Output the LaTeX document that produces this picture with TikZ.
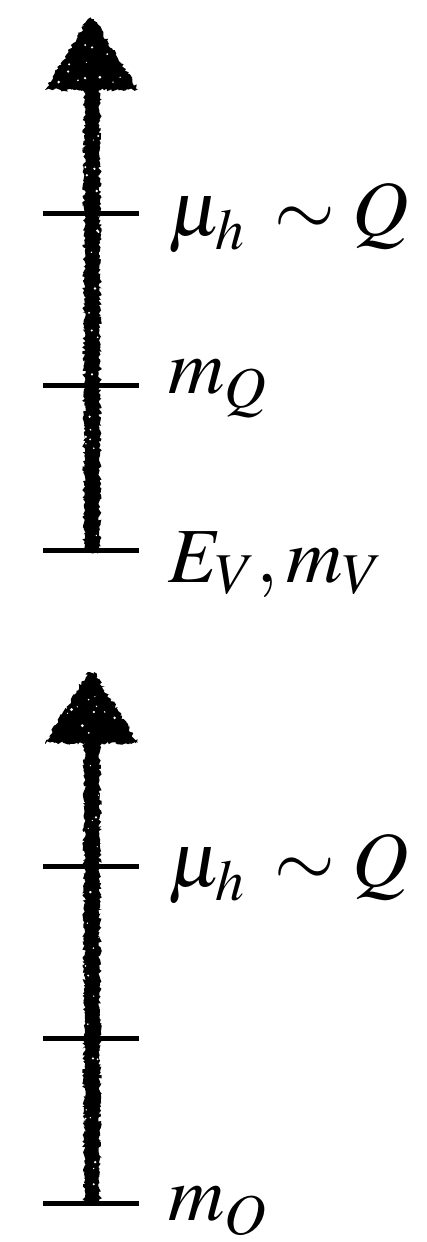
\documentclass[tikz,border=0pt]{standalone}
\usepackage{mathptmx}
\usetikzlibrary{decorations.pathmorphing}
\begin{document}
\pgfmathsetseed{7}
\begin{tikzpicture}[x=1pt,y=-1pt,
  rough/.style={fill=black, decorate, decoration={random steps, segment length=1.8pt, amplitude=1.8pt}},
  speck/.style={fill=white},
  scaletick/.style={line width=5pt},
  lbl/.style={anchor=base west, inner sep=0pt, font=\fontsize{78}{88}\selectfont}]
\useasboundingbox (0,0) rectangle (427,1242);
% ---- upper scale ----
\coordinate (a1apex) at (88,19);
\path[rough] (84,86) -- (84,552) -- (100,552) -- (100,86) -- cycle;
\path[rough] (a1apex) -- (45,90) -- (138,90) -- (94,19) -- cycle;
\foreach \i in {1,...,22}{
  \pgfmathsetmacro{\yy}{100+rnd*440}
  \pgfmathsetmacro{\xx}{85+rnd*14}
  \fill[speck] (\xx,\yy) circle (0.6+rnd*0.8);
}
\foreach \i in {1,...,12}{
  \pgfmathsetmacro{\yy}{40+rnd*46}
  \pgfmathsetmacro{\xx}{91+(rnd-0.5)*(\yy-17)*1.1}
  \fill[speck] (\xx,\yy) circle (0.6+rnd*1.0);
}
\coordinate (t1) at (43,213);
\coordinate (t2) at (43,385);
\coordinate (t3) at (43,550);
\draw[scaletick] (t1) -- ++(96,0);
\draw[scaletick] (t2) -- ++(96,0);
\draw[scaletick] (t3) -- ++(96,0);
\node[lbl] (l1) at (168,235) {$\mu_{\raisebox{-3pt}{$\scriptstyle h$}}\mkern3mu\sim Q$};
\node[lbl] (l2) at (168,393) {$m_{\raisebox{-3pt}{$\scriptstyle Q$}}$};
\node[lbl] (l3) at (168,582) {$E_V, m_V$};
% ---- lower scale ----
\coordinate (a2apex) at (88,672);
\path[rough] (84,739) -- (84,1205) -- (100,1205) -- (100,739) -- cycle;
\path[rough] (a2apex) -- (45,743) -- (138,743) -- (94,672) -- cycle;
\foreach \i in {1,...,22}{
  \pgfmathsetmacro{\yy}{755+rnd*440}
  \pgfmathsetmacro{\xx}{85+rnd*14}
  \fill[speck] (\xx,\yy) circle (0.6+rnd*0.8);
}
\foreach \i in {1,...,12}{
  \pgfmathsetmacro{\yy}{693+rnd*46}
  \pgfmathsetmacro{\xx}{91+(rnd-0.5)*(\yy-670)*1.1}
  \fill[speck] (\xx,\yy) circle (0.6+rnd*1.0);
}
\coordinate (u1) at (43,866);
\coordinate (u2) at (43,1038);
\coordinate (u3) at (43,1203);
\draw[scaletick] (u1) -- ++(96,0);
\draw[scaletick] (u2) -- ++(96,0);
\draw[scaletick] (u3) -- ++(96,0);
\node[lbl] (m1) at (168,886) {$\mu_{\raisebox{-3pt}{$\scriptstyle h$}}\mkern3mu\sim Q$};
\node[lbl] (m2) at (168,1220) {$m_{\raisebox{-3pt}{$\scriptstyle O$}}$};
\end{tikzpicture}
\end{document}
